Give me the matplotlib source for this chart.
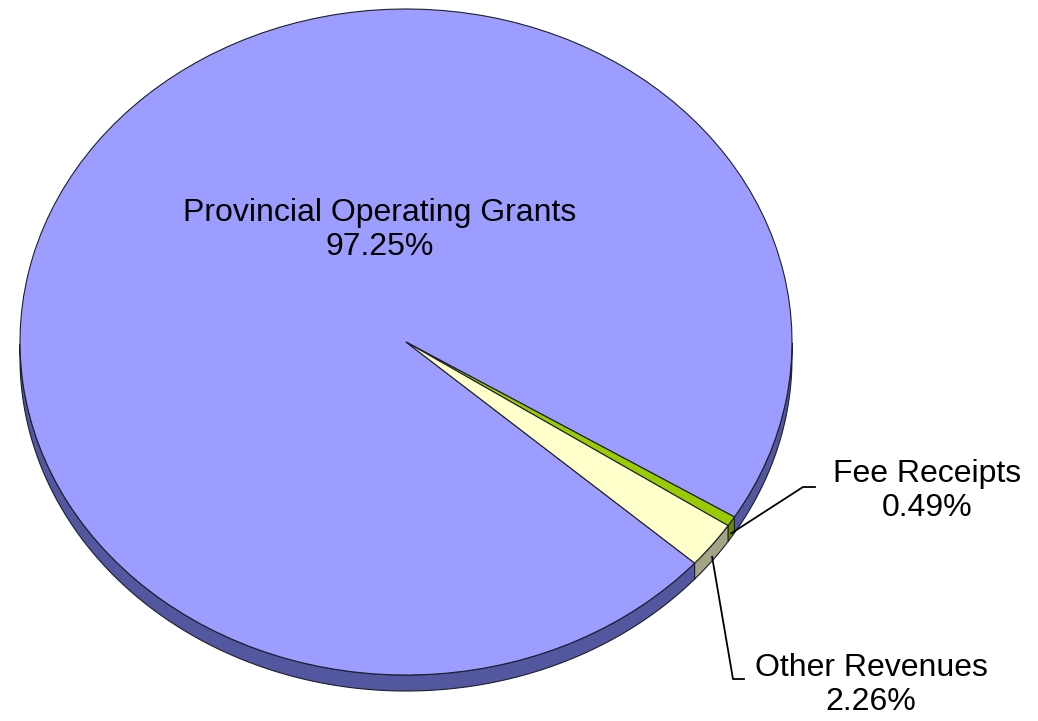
import numpy as np
import matplotlib.pyplot as plt
from matplotlib.patches import Polygon

plt.rcParams['font.family'] = ['Liberation Sans', 'DejaVu Sans']

labels = ['Provincial Operating Grants', 'Fee Receipts', 'Other Revenues']
shares = [97.25, 0.49, 2.26]
top_colors = ['#9d9dff', '#99cc00', '#ffffcc']
side_colors = ['#52579f', '#6a8a00', '#a3a386']

W, H = 1038, 721
CX, CY = 406, 342          # pie centre in pixels (y down)
RX, RY = 386, 333          # ellipse radii in pixels
DEPTH = 16                 # thickness of the pie edge in pixels
K = RX / RY                # y stretch so a circle in data becomes an ellipse


def Y(py):
    return (H - py) * K


fig = plt.figure(figsize=(W / 100, H / 100), dpi=100)
ax = fig.add_axes([0, 0, 1, 1])

wedges, _ = ax.pie(shares, colors=top_colors, startangle=-41.6,
                   counterclock=False, center=(CX, Y(CY)), radius=RX,
                   wedgeprops=dict(edgecolor='#1e1e2c', linewidth=0.8))
for w in wedges:
    w.set_zorder(3)

ax.set_aspect('auto')
ax.set_xlim(0, W)
ax.set_ylim(0, H * K)
ax.axis('off')


def rim(theta, drop=0.0):
    t = np.radians(theta)
    return CX + RX * np.cos(t), Y(CY) + RX * np.sin(t) - drop * K


# side wall: only the front half (sin < 0) is visible
for w, sc in zip(wedges, side_colors):
    th = np.linspace(w.theta1, w.theta2, 800)
    front = np.sin(np.radians(th)) <= 0
    idx = np.flatnonzero(front)
    if idx.size == 0:
        continue
    runs = np.split(idx, np.flatnonzero(np.diff(idx) > 1) + 1)
    for r in runs:
        a = th[r]
        x1, y1 = rim(a)
        x2, y2 = rim(a[::-1], DEPTH)
        pts = np.column_stack([np.r_[x1, x2], np.r_[y1, y2]])
        ax.add_patch(Polygon(pts, closed=True, facecolor=sc,
                             edgecolor='#1e1e2c', linewidth=0.8, zorder=2))

ax.text(380, Y(230), f'{labels[0]}\n{shares[0]:.2f}%', ha='center',
        va='center', fontsize=23, linespacing=1.2, zorder=5)

# leader lines from the small slices out to their labels
label_pos = {1: (927, 491), 2: (871, 685)}
elbows = {1: [(803, 487), (815, 487)], 2: [(733, 679), (744, 679)]}
for i in (1, 2):
    w = wedges[i]
    mid = (w.theta1 + w.theta2) / 2
    sx, sy = rim(mid, DEPTH * 0.75)
    xs = [sx] + [p[0] for p in elbows[i]]
    ys = [sy] + [Y(p[1]) for p in elbows[i]]
    ax.plot(xs, ys, color='black', linewidth=1.3, zorder=6)
    lx, ly = label_pos[i]
    ax.text(lx, Y(ly), f'{labels[i]}\n{shares[i]:.2f}%', ha='center',
            va='center', fontsize=23, linespacing=1.2, zorder=5)

fig.savefig('out.png', dpi=100, facecolor='white')
